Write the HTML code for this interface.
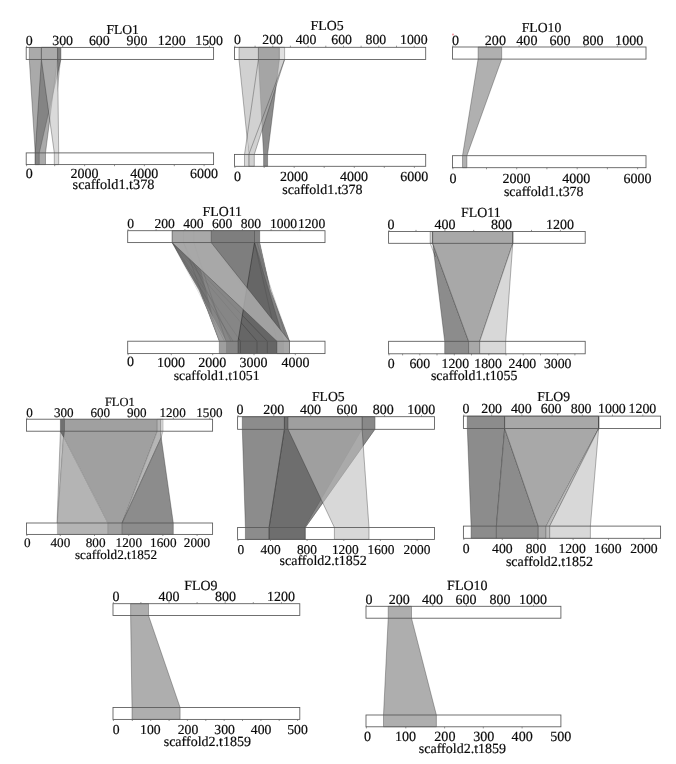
<!DOCTYPE html>
<html><head><meta charset="utf-8"><title>Synteny</title>
<style>
html,body{margin:0;padding:0;background:#fff;}
body{width:676px;height:764px;overflow:hidden;}
svg{display:block;}
svg text{font-family:"Liberation Serif",serif;fill:#0a0a0a;text-rendering:geometricPrecision;}
</style></head><body>
<svg width="676" height="764" viewBox="0 0 676 764">
<rect x="0" y="0" width="676" height="764" fill="#ffffff"/>
<polygon points="29.3,47.4 60.9,47.4 60.9,59.4 39.3,152.9 39.3,164.6 35.2,164.6 35.2,152.9 29.3,59.4" fill="rgba(100,100,100,0.550)" stroke="rgba(35,35,35,0.62)" stroke-width="0.55" stroke-linejoin="round"/>
<polygon points="41.4,47.4 57.4,47.4 57.4,59.4 45.5,152.9 45.5,164.6 35.2,164.6 35.2,152.9 41.4,59.4" fill="rgba(100,100,100,0.550)" stroke="rgba(35,35,35,0.62)" stroke-width="0.55" stroke-linejoin="round"/>
<polygon points="41.4,47.4 57.6,47.4 57.6,59.4 58.7,152.9 58.7,164.6 54.3,164.6 54.3,152.9 41.4,59.4" fill="rgba(195,195,195,0.620)" stroke="rgba(35,35,35,0.62)" stroke-width="0.55" stroke-linejoin="round"/>
<polygon points="57.6,47.4 60.9,47.4 60.9,59.4 57.7,92.0 57.6,59.4" fill="rgba(40,40,40,0.320)" stroke="none" stroke-width="0.55" stroke-linejoin="round"/>
<rect x="26.2" y="47.4" width="187.4" height="12.0" fill="none" stroke="#585858" stroke-width="0.85"/>
<rect x="26.2" y="152.9" width="187.4" height="11.7" fill="none" stroke="#585858" stroke-width="0.85"/>
<line x1="26.6" y1="45.8" x2="26.6" y2="47.4" stroke="#666" stroke-width="0.70"/>
<line x1="62.7" y1="45.8" x2="62.7" y2="47.4" stroke="#666" stroke-width="0.70"/>
<line x1="99.4" y1="45.8" x2="99.4" y2="47.4" stroke="#666" stroke-width="0.70"/>
<line x1="136.1" y1="45.8" x2="136.1" y2="47.4" stroke="#666" stroke-width="0.70"/>
<line x1="172.8" y1="45.8" x2="172.8" y2="47.4" stroke="#666" stroke-width="0.70"/>
<line x1="209.5" y1="45.8" x2="209.5" y2="47.4" stroke="#666" stroke-width="0.70"/>
<line x1="26.6" y1="164.6" x2="26.6" y2="166.2" stroke="#666" stroke-width="0.70"/>
<line x1="54.7" y1="164.6" x2="54.7" y2="166.2" stroke="#666" stroke-width="0.70"/>
<line x1="84.6" y1="164.6" x2="84.6" y2="166.2" stroke="#666" stroke-width="0.70"/>
<line x1="114.5" y1="164.6" x2="114.5" y2="166.2" stroke="#666" stroke-width="0.70"/>
<line x1="144.4" y1="164.6" x2="144.4" y2="166.2" stroke="#666" stroke-width="0.70"/>
<line x1="174.3" y1="164.6" x2="174.3" y2="166.2" stroke="#666" stroke-width="0.70"/>
<line x1="204.1" y1="164.6" x2="204.1" y2="166.2" stroke="#666" stroke-width="0.70"/>
<polygon points="258.4,47.3 279.4,47.3 279.4,59.5 267.6,154.4 267.6,166.3 263.6,166.3 263.6,154.4 258.4,59.5" fill="rgba(55,55,55,0.580)" stroke="rgba(35,35,35,0.62)" stroke-width="0.55" stroke-linejoin="round"/>
<polygon points="239.0,47.3 284.6,47.3 284.6,59.5 254.3,154.4 254.3,166.3 248.8,166.3 248.8,154.4 239.0,59.5" fill="rgba(180,180,180,0.620)" stroke="rgba(35,35,35,0.62)" stroke-width="0.55" stroke-linejoin="round"/>
<polygon points="279.6,47.7 284.4,47.7 284.4,59.1 279.6,59.1" fill="rgba(255,255,255,0.35)" stroke="none" stroke-width="0.55" stroke-linejoin="round"/>
<polygon points="247.0,137.2 248.8,154.4 248.8,166.3 244.5,166.3 244.5,154.4" fill="rgb(216,216,216)" stroke="none" stroke-width="0.55" stroke-linejoin="round"/>
<line x1="258.4" y1="59.5" x2="244.5" y2="154.4" stroke="rgba(35,35,35,0.62)" stroke-width="0.55"/>
<line x1="244.5" y1="154.4" x2="244.5" y2="166.3" stroke="rgba(35,35,35,0.62)" stroke-width="0.55"/>
<line x1="284.6" y1="59.5" x2="248.8" y2="154.4" stroke="rgba(35,35,35,0.62)" stroke-width="0.55"/>
<line x1="248.8" y1="154.4" x2="248.8" y2="166.3" stroke="rgba(35,35,35,0.62)" stroke-width="0.55"/>
<line x1="258.4" y1="47.3" x2="258.4" y2="59.5" stroke="rgba(35,35,35,0.62)" stroke-width="0.55"/>
<line x1="279.4" y1="47.3" x2="279.4" y2="59.5" stroke="rgba(40,40,40,0.3)" stroke-width="0.55"/>
<rect x="234.5" y="47.3" width="191.2" height="12.2" fill="none" stroke="#585858" stroke-width="0.85"/>
<rect x="234.5" y="154.4" width="191.2" height="11.9" fill="none" stroke="#585858" stroke-width="0.85"/>
<line x1="234.9" y1="45.7" x2="234.9" y2="47.3" stroke="#666" stroke-width="0.70"/>
<line x1="255.1" y1="45.7" x2="255.1" y2="47.3" stroke="#666" stroke-width="0.70"/>
<line x1="272.8" y1="45.7" x2="272.8" y2="47.3" stroke="#666" stroke-width="0.70"/>
<line x1="290.4" y1="45.7" x2="290.4" y2="47.3" stroke="#666" stroke-width="0.70"/>
<line x1="308.1" y1="45.7" x2="308.1" y2="47.3" stroke="#666" stroke-width="0.70"/>
<line x1="325.8" y1="45.7" x2="325.8" y2="47.3" stroke="#666" stroke-width="0.70"/>
<line x1="343.5" y1="45.7" x2="343.5" y2="47.3" stroke="#666" stroke-width="0.70"/>
<line x1="361.1" y1="45.7" x2="361.1" y2="47.3" stroke="#666" stroke-width="0.70"/>
<line x1="378.8" y1="45.7" x2="378.8" y2="47.3" stroke="#666" stroke-width="0.70"/>
<line x1="396.5" y1="45.7" x2="396.5" y2="47.3" stroke="#666" stroke-width="0.70"/>
<line x1="414.2" y1="45.7" x2="414.2" y2="47.3" stroke="#666" stroke-width="0.70"/>
<line x1="234.9" y1="166.3" x2="234.9" y2="167.9" stroke="#666" stroke-width="0.70"/>
<line x1="264.2" y1="166.3" x2="264.2" y2="167.9" stroke="#666" stroke-width="0.70"/>
<line x1="294.2" y1="166.3" x2="294.2" y2="167.9" stroke="#666" stroke-width="0.70"/>
<line x1="324.2" y1="166.3" x2="324.2" y2="167.9" stroke="#666" stroke-width="0.70"/>
<line x1="354.3" y1="166.3" x2="354.3" y2="167.9" stroke="#666" stroke-width="0.70"/>
<line x1="384.3" y1="166.3" x2="384.3" y2="167.9" stroke="#666" stroke-width="0.70"/>
<line x1="414.4" y1="166.3" x2="414.4" y2="167.9" stroke="#666" stroke-width="0.70"/>
<polygon points="478.1,47.0 501.7,47.0 501.7,59.1 466.9,155.7 466.9,167.7 462.5,167.7 462.5,155.7 478.1,59.1" fill="rgb(176,176,176)" stroke="rgba(35,35,35,0.62)" stroke-width="0.55" stroke-linejoin="round"/>
<rect x="452.5" y="47.0" width="193.5" height="12.1" fill="none" stroke="#585858" stroke-width="0.85"/>
<rect x="452.5" y="155.7" width="193.5" height="12.0" fill="none" stroke="#585858" stroke-width="0.85"/>
<line x1="452.9" y1="45.4" x2="452.9" y2="47.0" stroke="#666" stroke-width="0.70"/>
<line x1="486.3" y1="45.4" x2="486.3" y2="47.0" stroke="#666" stroke-width="0.70"/>
<line x1="519.1" y1="45.4" x2="519.1" y2="47.0" stroke="#666" stroke-width="0.70"/>
<line x1="551.9" y1="45.4" x2="551.9" y2="47.0" stroke="#666" stroke-width="0.70"/>
<line x1="584.6" y1="45.4" x2="584.6" y2="47.0" stroke="#666" stroke-width="0.70"/>
<line x1="617.4" y1="45.4" x2="617.4" y2="47.0" stroke="#666" stroke-width="0.70"/>
<line x1="452.9" y1="167.7" x2="452.9" y2="169.3" stroke="#666" stroke-width="0.70"/>
<line x1="486.5" y1="167.7" x2="486.5" y2="169.3" stroke="#666" stroke-width="0.70"/>
<line x1="516.7" y1="167.7" x2="516.7" y2="169.3" stroke="#666" stroke-width="0.70"/>
<line x1="546.9" y1="167.7" x2="546.9" y2="169.3" stroke="#666" stroke-width="0.70"/>
<line x1="577.2" y1="167.7" x2="577.2" y2="169.3" stroke="#666" stroke-width="0.70"/>
<line x1="607.4" y1="167.7" x2="607.4" y2="169.3" stroke="#666" stroke-width="0.70"/>
<line x1="637.6" y1="167.7" x2="637.6" y2="169.3" stroke="#666" stroke-width="0.70"/>
<circle cx="453" cy="34.5" r="1.1" fill="#f4a0a8"/>
<polygon points="172.2,230.7 259.7,230.7 259.7,242.6 270.3,290.0 289.5,341.2 289.5,353.6 219.3,353.6 219.3,341.2 207.4,310.0 199.1,290.0 185.7,266.9 172.2,242.6" fill="rgb(134,134,134)" stroke="rgba(40,40,40,0.6)" stroke-width="0.55" stroke-linejoin="round"/>
<polygon points="172.2,242.6 200.8,269.5 213.5,319.0 219.3,341.2 207.4,310.0 199.1,290.0 185.7,266.9" fill="rgb(116,116,116)" stroke="none" stroke-width="0.55" stroke-linejoin="round"/>
<polygon points="190.0,274.5 226.0,341.2 226.0,353.6 219.3,353.6 219.3,341.2 207.4,310.0 199.1,290.0" fill="rgba(168,168,168,0.700)" stroke="none" stroke-width="0.55" stroke-linejoin="round"/>
<polygon points="211.2,230.7 254.5,230.7 254.5,242.6 246.3,291.5 211.2,242.6" fill="rgb(126,126,126)" stroke="none" stroke-width="0.55" stroke-linejoin="round"/>
<polygon points="254.5,230.7 259.7,230.7 259.7,242.6 270.3,290.0 289.5,341.2 289.5,353.6 284.0,353.6 284.0,341.2 254.5,242.6" fill="rgb(130,130,130)" stroke="none" stroke-width="0.55" stroke-linejoin="round"/>
<polygon points="254.5,242.6 284.0,341.2 284.0,353.6 238.0,353.6 238.0,341.2" fill="rgb(102,102,102)" stroke="none" stroke-width="0.55" stroke-linejoin="round"/>
<polygon points="172.2,242.6 257.0,341.2 257.0,353.6 240.5,353.6 240.5,341.2" fill="rgba(255,255,255,0.000)" stroke="none" stroke-width="0.55" stroke-linejoin="round"/>
<line x1="172.2" y1="242.6" x2="238.5" y2="338.3" stroke="rgba(30,30,30,0.13)" stroke-width="0.55"/>
<line x1="238.5" y1="338.3" x2="240.5" y2="341.2" stroke="rgba(30,30,30,0.5)" stroke-width="0.55"/>
<line x1="240.5" y1="341.2" x2="240.5" y2="353.6" stroke="rgba(30,30,30,0.45)" stroke-width="0.55"/>
<line x1="172.2" y1="242.6" x2="241.1" y2="322.7" stroke="rgba(30,30,30,0.13)" stroke-width="0.55"/>
<line x1="241.1" y1="322.7" x2="257.0" y2="341.2" stroke="rgba(30,30,30,0.5)" stroke-width="0.55"/>
<line x1="257.0" y1="341.2" x2="257.0" y2="353.6" stroke="rgba(30,30,30,0.45)" stroke-width="0.55"/>
<line x1="172.2" y1="242.6" x2="242.3" y2="315.3" stroke="rgba(30,30,30,0.13)" stroke-width="0.55"/>
<line x1="242.3" y1="315.3" x2="267.3" y2="341.2" stroke="rgba(30,30,30,0.5)" stroke-width="0.55"/>
<line x1="267.3" y1="341.2" x2="267.3" y2="353.6" stroke="rgba(30,30,30,0.45)" stroke-width="0.55"/>
<line x1="183.5" y1="242.6" x2="219.3" y2="341.2" stroke="rgba(30,30,30,0.22)" stroke-width="0.55"/>
<line x1="193.8" y1="242.6" x2="226.0" y2="341.2" stroke="rgba(30,30,30,0.22)" stroke-width="0.55"/>
<line x1="172.2" y1="242.6" x2="224.5" y2="341.2" stroke="rgba(30,30,30,0.22)" stroke-width="0.55"/>
<line x1="183.5" y1="242.6" x2="231.0" y2="341.2" stroke="rgba(30,30,30,0.22)" stroke-width="0.55"/>
<line x1="172.2" y1="242.6" x2="233.0" y2="341.2" stroke="rgba(30,30,30,0.22)" stroke-width="0.55"/>
<line x1="183.5" y1="230.7" x2="183.5" y2="242.6" stroke="rgba(30,30,30,0.2)" stroke-width="0.55"/>
<line x1="193.8" y1="230.7" x2="193.8" y2="242.6" stroke="rgba(30,30,30,0.2)" stroke-width="0.55"/>
<line x1="254.5" y1="230.7" x2="254.5" y2="242.6" stroke="rgba(30,30,30,0.6)" stroke-width="0.55"/>
<line x1="254.5" y1="242.6" x2="238.0" y2="341.2" stroke="rgba(30,30,30,0.6)" stroke-width="0.80"/>
<line x1="238.0" y1="341.2" x2="238.0" y2="353.6" stroke="rgba(30,30,30,0.6)" stroke-width="0.55"/>
<line x1="254.5" y1="242.6" x2="284.0" y2="341.2" stroke="rgba(30,30,30,0.35)" stroke-width="0.55"/>
<line x1="254.5" y1="242.6" x2="277.0" y2="341.2" stroke="rgba(30,30,30,0.25)" stroke-width="0.55"/>
<line x1="257.0" y1="242.6" x2="287.0" y2="341.2" stroke="rgba(30,30,30,0.25)" stroke-width="0.55"/>
<line x1="254.5" y1="242.6" x2="289.5" y2="341.2" stroke="rgba(30,30,30,0.25)" stroke-width="0.55"/>
<polygon points="172.2,230.7 211.2,230.7 211.2,242.6 289.5,341.2 289.5,353.6 276.9,353.6 276.9,341.2 172.2,242.6" fill="rgba(176,176,176,0.800)" stroke="rgba(40,40,40,0.6)" stroke-width="0.55" stroke-linejoin="round"/>
<rect x="127.7" y="230.7" width="197.3" height="11.9" fill="none" stroke="#585858" stroke-width="0.85"/>
<rect x="127.7" y="341.2" width="197.3" height="12.4" fill="none" stroke="#585858" stroke-width="0.85"/>
<line x1="128.1" y1="229.1" x2="128.1" y2="230.7" stroke="#666" stroke-width="0.70"/>
<line x1="156.1" y1="229.1" x2="156.1" y2="230.7" stroke="#666" stroke-width="0.70"/>
<line x1="184.9" y1="229.1" x2="184.9" y2="230.7" stroke="#666" stroke-width="0.70"/>
<line x1="213.6" y1="229.1" x2="213.6" y2="230.7" stroke="#666" stroke-width="0.70"/>
<line x1="242.4" y1="229.1" x2="242.4" y2="230.7" stroke="#666" stroke-width="0.70"/>
<line x1="271.1" y1="229.1" x2="271.1" y2="230.7" stroke="#666" stroke-width="0.70"/>
<line x1="299.9" y1="229.1" x2="299.9" y2="230.7" stroke="#666" stroke-width="0.70"/>
<line x1="128.1" y1="353.6" x2="128.1" y2="355.2" stroke="#666" stroke-width="0.70"/>
<line x1="171.3" y1="353.6" x2="171.3" y2="355.2" stroke="#666" stroke-width="0.70"/>
<line x1="212.7" y1="353.6" x2="212.7" y2="355.2" stroke="#666" stroke-width="0.70"/>
<line x1="254.0" y1="353.6" x2="254.0" y2="355.2" stroke="#666" stroke-width="0.70"/>
<line x1="295.3" y1="353.6" x2="295.3" y2="355.2" stroke="#666" stroke-width="0.70"/>
<polygon points="430.2,231.5 432.7,231.5 432.7,243.3 430.2,243.3" fill="rgb(214,214,214)" stroke="rgba(35,35,35,0.62)" stroke-width="0.55" stroke-linejoin="round"/>
<polygon points="432.7,231.5 432.7,231.5 432.7,243.3 468.6,341.3 468.6,353.8 444.7,353.8 444.7,341.3 432.7,243.3" fill="rgb(140,140,140)" stroke="rgba(35,35,35,0.62)" stroke-width="0.55" stroke-linejoin="round"/>
<line x1="430.2" y1="243.3" x2="435.5" y2="257.0" stroke="rgba(35,35,35,0.62)" stroke-width="0.55"/>
<polygon points="432.7,231.5 512.8,231.5 512.8,243.3 479.7,341.3 479.7,353.8 468.6,353.8 468.6,341.3 432.7,243.3" fill="rgb(168,168,168)" stroke="rgba(35,35,35,0.62)" stroke-width="0.55" stroke-linejoin="round"/>
<polygon points="512.8,231.5 512.8,231.5 512.8,243.3 505.7,341.3 505.7,353.8 479.7,353.8 479.7,341.3 512.8,243.3" fill="rgb(216,216,216)" stroke="rgba(35,35,35,0.62)" stroke-width="0.55" stroke-linejoin="round"/>
<rect x="388.6" y="231.5" width="196.6" height="11.8" fill="none" stroke="#585858" stroke-width="0.85"/>
<rect x="388.6" y="341.3" width="196.6" height="12.5" fill="none" stroke="#585858" stroke-width="0.85"/>
<line x1="389.0" y1="229.9" x2="389.0" y2="231.5" stroke="#666" stroke-width="0.70"/>
<line x1="416.0" y1="229.9" x2="416.0" y2="231.5" stroke="#666" stroke-width="0.70"/>
<line x1="444.9" y1="229.9" x2="444.9" y2="231.5" stroke="#666" stroke-width="0.70"/>
<line x1="473.7" y1="229.9" x2="473.7" y2="231.5" stroke="#666" stroke-width="0.70"/>
<line x1="502.6" y1="229.9" x2="502.6" y2="231.5" stroke="#666" stroke-width="0.70"/>
<line x1="531.5" y1="229.9" x2="531.5" y2="231.5" stroke="#666" stroke-width="0.70"/>
<line x1="560.4" y1="229.9" x2="560.4" y2="231.5" stroke="#666" stroke-width="0.70"/>
<line x1="389.0" y1="353.8" x2="389.0" y2="355.4" stroke="#666" stroke-width="0.70"/>
<line x1="402.6" y1="353.8" x2="402.6" y2="355.4" stroke="#666" stroke-width="0.70"/>
<line x1="419.8" y1="353.8" x2="419.8" y2="355.4" stroke="#666" stroke-width="0.70"/>
<line x1="437.0" y1="353.8" x2="437.0" y2="355.4" stroke="#666" stroke-width="0.70"/>
<line x1="454.3" y1="353.8" x2="454.3" y2="355.4" stroke="#666" stroke-width="0.70"/>
<line x1="471.5" y1="353.8" x2="471.5" y2="355.4" stroke="#666" stroke-width="0.70"/>
<line x1="488.8" y1="353.8" x2="488.8" y2="355.4" stroke="#666" stroke-width="0.70"/>
<line x1="506.0" y1="353.8" x2="506.0" y2="355.4" stroke="#666" stroke-width="0.70"/>
<line x1="523.2" y1="353.8" x2="523.2" y2="355.4" stroke="#666" stroke-width="0.70"/>
<line x1="540.5" y1="353.8" x2="540.5" y2="355.4" stroke="#666" stroke-width="0.70"/>
<line x1="557.7" y1="353.8" x2="557.7" y2="355.4" stroke="#666" stroke-width="0.70"/>
<line x1="574.9" y1="353.8" x2="574.9" y2="355.4" stroke="#666" stroke-width="0.70"/>
<polygon points="60.4,431.2 63.6,436.9 57.6,523.0 57.0,523.0" fill="rgb(196,196,196)" stroke="rgba(35,35,35,0.62)" stroke-width="0.50" stroke-linejoin="round"/>
<polygon points="63.6,436.9 107.9,523.0 107.9,534.4 57.3,534.4 57.3,523.0" fill="rgb(180,180,180)" stroke="rgba(35,35,35,0.35)" stroke-width="0.40" stroke-linejoin="round"/>
<polygon points="64.5,419.2 157.3,419.2 157.3,431.2 122.2,523.0 122.2,534.4 107.9,534.4 107.9,523.0 63.6,436.9 64.5,431.2" fill="rgb(160,160,160)" stroke="rgba(35,35,35,0.3)" stroke-width="0.40" stroke-linejoin="round"/>
<polygon points="60.4,419.2 64.5,419.2 64.5,431.2 63.6,436.9 60.4,431.2" fill="rgb(112,112,112)" stroke="rgba(35,35,35,0.62)" stroke-width="0.55" stroke-linejoin="round"/>
<polygon points="157.3,419.2 160.8,419.2 160.8,431.2 161.2,437.5 122.2,523.0 157.3,431.2" fill="rgb(182,182,182)" stroke="rgba(35,35,35,0.62)" stroke-width="0.40" stroke-linejoin="round"/>
<polygon points="160.8,419.2 163.0,419.2 163.0,431.2 161.2,437.5 160.8,431.2" fill="rgb(224,224,224)" stroke="rgba(35,35,35,0.62)" stroke-width="0.40" stroke-linejoin="round"/>
<polygon points="161.2,437.5 173.3,523.0 173.3,534.4 122.2,534.4 122.2,523.0" fill="rgb(140,140,140)" stroke="rgba(35,35,35,0.62)" stroke-width="0.55" stroke-linejoin="round"/>
<rect x="26.5" y="419.2" width="186.1" height="12.0" fill="none" stroke="#585858" stroke-width="0.85"/>
<rect x="26.5" y="523.0" width="186.1" height="11.4" fill="none" stroke="#585858" stroke-width="0.85"/>
<line x1="26.9" y1="417.6" x2="26.9" y2="419.2" stroke="#666" stroke-width="0.70"/>
<line x1="64.0" y1="417.6" x2="64.0" y2="419.2" stroke="#666" stroke-width="0.70"/>
<line x1="100.4" y1="417.6" x2="100.4" y2="419.2" stroke="#666" stroke-width="0.70"/>
<line x1="136.9" y1="417.6" x2="136.9" y2="419.2" stroke="#666" stroke-width="0.70"/>
<line x1="173.3" y1="417.6" x2="173.3" y2="419.2" stroke="#666" stroke-width="0.70"/>
<line x1="209.8" y1="417.6" x2="209.8" y2="419.2" stroke="#666" stroke-width="0.70"/>
<line x1="26.9" y1="534.4" x2="26.9" y2="536.0" stroke="#666" stroke-width="0.70"/>
<line x1="60.3" y1="534.4" x2="60.3" y2="536.0" stroke="#666" stroke-width="0.70"/>
<line x1="94.5" y1="534.4" x2="94.5" y2="536.0" stroke="#666" stroke-width="0.70"/>
<line x1="128.7" y1="534.4" x2="128.7" y2="536.0" stroke="#666" stroke-width="0.70"/>
<line x1="162.9" y1="534.4" x2="162.9" y2="536.0" stroke="#666" stroke-width="0.70"/>
<line x1="197.1" y1="534.4" x2="197.1" y2="536.0" stroke="#666" stroke-width="0.70"/>
<polygon points="242.3,416.7 284.4,416.7 284.4,429.3 269.1,527.5 269.1,539.4 245.4,539.4 245.4,527.5 242.3,429.3" fill="rgba(63,63,63,0.600)" stroke="rgba(35,35,35,0.62)" stroke-width="0.55" stroke-linejoin="round"/>
<polygon points="284.4,416.7 374.9,416.7 374.9,429.3 305.3,527.5 305.3,539.4 269.1,539.4 269.1,527.5 284.4,429.3" fill="rgba(13,13,13,0.600)" stroke="rgba(35,35,35,0.62)" stroke-width="0.55" stroke-linejoin="round"/>
<polygon points="362.1,416.7 374.9,416.7 374.9,429.3 305.3,527.5 305.3,539.4 304.6,539.4 304.6,527.5 362.1,429.3" fill="rgba(170,170,170,0.450)" stroke="rgba(40,40,40,0.3)" stroke-width="0.55" stroke-linejoin="round"/>
<polygon points="288.0,416.7 362.1,416.7 362.1,429.3 369.0,527.5 369.0,539.4 334.4,539.4 334.4,527.5 288.0,429.3" fill="rgba(191,191,191,0.610)" stroke="rgba(35,35,35,0.62)" stroke-width="0.55" stroke-linejoin="round"/>
<rect x="237.6" y="416.7" width="196.9" height="12.6" fill="none" stroke="#585858" stroke-width="0.85"/>
<rect x="237.6" y="527.5" width="196.9" height="11.9" fill="none" stroke="#585858" stroke-width="0.85"/>
<line x1="238.0" y1="415.1" x2="238.0" y2="416.7" stroke="#666" stroke-width="0.70"/>
<line x1="273.8" y1="415.1" x2="273.8" y2="416.7" stroke="#666" stroke-width="0.70"/>
<line x1="310.7" y1="415.1" x2="310.7" y2="416.7" stroke="#666" stroke-width="0.70"/>
<line x1="347.6" y1="415.1" x2="347.6" y2="416.7" stroke="#666" stroke-width="0.70"/>
<line x1="384.6" y1="415.1" x2="384.6" y2="416.7" stroke="#666" stroke-width="0.70"/>
<line x1="421.5" y1="415.1" x2="421.5" y2="416.7" stroke="#666" stroke-width="0.70"/>
<line x1="238.0" y1="539.4" x2="238.0" y2="541.0" stroke="#666" stroke-width="0.70"/>
<line x1="270.5" y1="539.4" x2="270.5" y2="541.0" stroke="#666" stroke-width="0.70"/>
<line x1="307.1" y1="539.4" x2="307.1" y2="541.0" stroke="#666" stroke-width="0.70"/>
<line x1="343.8" y1="539.4" x2="343.8" y2="541.0" stroke="#666" stroke-width="0.70"/>
<line x1="380.4" y1="539.4" x2="380.4" y2="541.0" stroke="#666" stroke-width="0.70"/>
<line x1="417.1" y1="539.4" x2="417.1" y2="541.0" stroke="#666" stroke-width="0.70"/>
<polygon points="467.3,416.1 504.7,416.1 504.7,428.5 496.4,526.1 496.4,538.3 471.1,538.3 471.1,526.1 467.3,428.5" fill="rgb(140,140,140)" stroke="rgba(35,35,35,0.62)" stroke-width="0.55" stroke-linejoin="round"/>
<polygon points="504.7,416.1 504.7,416.1 504.7,428.5 538.3,526.1 538.3,538.3 496.4,538.3 496.4,526.1 504.7,428.5" fill="rgb(140,140,140)" stroke="rgba(35,35,35,0.62)" stroke-width="0.55" stroke-linejoin="round"/>
<polygon points="504.7,416.1 598.7,416.1 598.7,428.5 546.1,526.1 546.1,538.3 538.3,538.3 538.3,526.1 504.7,428.5" fill="rgb(168,168,168)" stroke="rgba(35,35,35,0.62)" stroke-width="0.55" stroke-linejoin="round"/>
<polygon points="598.7,416.1 598.7,416.1 598.7,428.5 549.7,526.1 549.7,538.3 546.1,538.3 546.1,526.1 598.7,428.5" fill="rgb(186,186,186)" stroke="rgba(35,35,35,0.62)" stroke-width="0.30" stroke-linejoin="round"/>
<polygon points="598.7,416.1 598.7,416.1 598.7,428.5 590.4,526.1 590.4,538.3 549.7,538.3 549.7,526.1 598.7,428.5" fill="rgb(216,216,216)" stroke="rgba(35,35,35,0.62)" stroke-width="0.55" stroke-linejoin="round"/>
<rect x="463.4" y="416.1" width="197.2" height="12.4" fill="none" stroke="#585858" stroke-width="0.85"/>
<rect x="463.4" y="526.1" width="197.2" height="12.2" fill="none" stroke="#585858" stroke-width="0.85"/>
<line x1="463.8" y1="414.5" x2="463.8" y2="416.1" stroke="#666" stroke-width="0.70"/>
<line x1="491.7" y1="414.5" x2="491.7" y2="416.1" stroke="#666" stroke-width="0.70"/>
<line x1="521.9" y1="414.5" x2="521.9" y2="416.1" stroke="#666" stroke-width="0.70"/>
<line x1="552.1" y1="414.5" x2="552.1" y2="416.1" stroke="#666" stroke-width="0.70"/>
<line x1="582.3" y1="414.5" x2="582.3" y2="416.1" stroke="#666" stroke-width="0.70"/>
<line x1="612.5" y1="414.5" x2="612.5" y2="416.1" stroke="#666" stroke-width="0.70"/>
<line x1="642.8" y1="414.5" x2="642.8" y2="416.1" stroke="#666" stroke-width="0.70"/>
<line x1="463.8" y1="538.3" x2="463.8" y2="539.9" stroke="#666" stroke-width="0.70"/>
<line x1="502.3" y1="538.3" x2="502.3" y2="539.9" stroke="#666" stroke-width="0.70"/>
<line x1="537.7" y1="538.3" x2="537.7" y2="539.9" stroke="#666" stroke-width="0.70"/>
<line x1="573.1" y1="538.3" x2="573.1" y2="539.9" stroke="#666" stroke-width="0.70"/>
<line x1="608.5" y1="538.3" x2="608.5" y2="539.9" stroke="#666" stroke-width="0.70"/>
<line x1="643.9" y1="538.3" x2="643.9" y2="539.9" stroke="#666" stroke-width="0.70"/>
<polygon points="130.6,603.7 148.5,603.7 148.5,615.5 180.1,707.5 180.1,719.4 132.0,719.4 132.0,707.5 130.6,615.5" fill="rgb(174,174,174)" stroke="rgba(35,35,35,0.62)" stroke-width="0.55" stroke-linejoin="round"/>
<rect x="113.0" y="603.7" width="186.8" height="11.8" fill="none" stroke="#585858" stroke-width="0.85"/>
<rect x="113.0" y="707.5" width="186.8" height="11.9" fill="none" stroke="#585858" stroke-width="0.85"/>
<line x1="113.4" y1="602.1" x2="113.4" y2="603.7" stroke="#666" stroke-width="0.70"/>
<line x1="140.9" y1="602.1" x2="140.9" y2="603.7" stroke="#666" stroke-width="0.70"/>
<line x1="169.0" y1="602.1" x2="169.0" y2="603.7" stroke="#666" stroke-width="0.70"/>
<line x1="197.1" y1="602.1" x2="197.1" y2="603.7" stroke="#666" stroke-width="0.70"/>
<line x1="225.2" y1="602.1" x2="225.2" y2="603.7" stroke="#666" stroke-width="0.70"/>
<line x1="253.3" y1="602.1" x2="253.3" y2="603.7" stroke="#666" stroke-width="0.70"/>
<line x1="281.5" y1="602.1" x2="281.5" y2="603.7" stroke="#666" stroke-width="0.70"/>
<line x1="113.4" y1="719.4" x2="113.4" y2="721.0" stroke="#666" stroke-width="0.70"/>
<line x1="132.3" y1="719.4" x2="132.3" y2="721.0" stroke="#666" stroke-width="0.70"/>
<line x1="150.7" y1="719.4" x2="150.7" y2="721.0" stroke="#666" stroke-width="0.70"/>
<line x1="169.1" y1="719.4" x2="169.1" y2="721.0" stroke="#666" stroke-width="0.70"/>
<line x1="187.4" y1="719.4" x2="187.4" y2="721.0" stroke="#666" stroke-width="0.70"/>
<line x1="205.8" y1="719.4" x2="205.8" y2="721.0" stroke="#666" stroke-width="0.70"/>
<line x1="224.2" y1="719.4" x2="224.2" y2="721.0" stroke="#666" stroke-width="0.70"/>
<line x1="242.5" y1="719.4" x2="242.5" y2="721.0" stroke="#666" stroke-width="0.70"/>
<line x1="260.9" y1="719.4" x2="260.9" y2="721.0" stroke="#666" stroke-width="0.70"/>
<line x1="279.2" y1="719.4" x2="279.2" y2="721.0" stroke="#666" stroke-width="0.70"/>
<line x1="297.6" y1="719.4" x2="297.6" y2="721.0" stroke="#666" stroke-width="0.70"/>
<polygon points="388.2,606.3 411.5,606.3 411.5,618.2 436.4,715.0 436.4,726.8 383.5,726.8 383.5,715.0 388.2,618.2" fill="rgb(174,174,174)" stroke="rgba(35,35,35,0.62)" stroke-width="0.55" stroke-linejoin="round"/>
<rect x="366.0" y="606.3" width="194.9" height="11.9" fill="none" stroke="#585858" stroke-width="0.85"/>
<rect x="366.0" y="715.0" width="194.9" height="11.8" fill="none" stroke="#585858" stroke-width="0.85"/>
<line x1="366.4" y1="604.7" x2="366.4" y2="606.3" stroke="#666" stroke-width="0.70"/>
<line x1="399.3" y1="604.7" x2="399.3" y2="606.3" stroke="#666" stroke-width="0.70"/>
<line x1="432.8" y1="604.7" x2="432.8" y2="606.3" stroke="#666" stroke-width="0.70"/>
<line x1="466.4" y1="604.7" x2="466.4" y2="606.3" stroke="#666" stroke-width="0.70"/>
<line x1="499.9" y1="604.7" x2="499.9" y2="606.3" stroke="#666" stroke-width="0.70"/>
<line x1="533.5" y1="604.7" x2="533.5" y2="606.3" stroke="#666" stroke-width="0.70"/>
<line x1="366.4" y1="726.8" x2="366.4" y2="728.4" stroke="#666" stroke-width="0.70"/>
<line x1="405.8" y1="726.8" x2="405.8" y2="728.4" stroke="#666" stroke-width="0.70"/>
<line x1="444.6" y1="726.8" x2="444.6" y2="728.4" stroke="#666" stroke-width="0.70"/>
<line x1="483.3" y1="726.8" x2="483.3" y2="728.4" stroke="#666" stroke-width="0.70"/>
<line x1="522.1" y1="726.8" x2="522.1" y2="728.4" stroke="#666" stroke-width="0.70"/>
<g style="filter:grayscale(1)" stroke="#0a0a0a" stroke-width="0.18">
<text x="106.4" y="34.0" text-anchor="start" font-size="13.6">FLO1</text>
<text x="25.8" y="45.0" text-anchor="start" font-size="13.9">0</text>
<text x="52.2" y="45.0" text-anchor="start" font-size="13.9">300</text>
<text x="88.9" y="45.0" text-anchor="start" font-size="13.9">600</text>
<text x="126.6" y="45.0" text-anchor="start" font-size="13.9">900</text>
<text x="157.8" y="45.0" text-anchor="start" font-size="13.9">1200</text>
<text x="195.2" y="45.0" text-anchor="start" font-size="13.9">1500</text>
<text x="25.8" y="178.0" text-anchor="start" font-size="14.0">0</text>
<text x="70.6" y="178.0" text-anchor="start" font-size="14.0">2000</text>
<text x="130.3" y="178.0" text-anchor="start" font-size="14.0">4000</text>
<text x="190.1" y="178.0" text-anchor="start" font-size="14.0">6000</text>
<text x="72.6" y="189.0" text-anchor="start" font-size="14.3">scaffold1.t378</text>
<text x="310.6" y="30.0" text-anchor="start" font-size="13.8">FLO5</text>
<text x="234.1" y="44.0" text-anchor="start" font-size="13.8">0</text>
<text x="262.3" y="44.0" text-anchor="start" font-size="13.8">200</text>
<text x="295.7" y="44.0" text-anchor="start" font-size="13.8">400</text>
<text x="331.3" y="44.0" text-anchor="start" font-size="13.8">600</text>
<text x="365.5" y="44.0" text-anchor="start" font-size="13.8">800</text>
<text x="400.0" y="44.0" text-anchor="start" font-size="13.8">1000</text>
<text x="234.1" y="181.0" text-anchor="start" font-size="14.0">0</text>
<text x="280.1" y="181.0" text-anchor="start" font-size="14.0">2000</text>
<text x="339.9" y="181.0" text-anchor="start" font-size="14.0">4000</text>
<text x="400.3" y="181.0" text-anchor="start" font-size="14.0">6000</text>
<text x="282.3" y="194.0" text-anchor="start" font-size="14.0">scaffold1.t378</text>
<text x="521.7" y="32.0" text-anchor="start" font-size="13.7">FLO10</text>
<text x="452.1" y="45.0" text-anchor="start" font-size="14.1">0</text>
<text x="484.8" y="45.0" text-anchor="start" font-size="14.1">200</text>
<text x="516.3" y="45.0" text-anchor="start" font-size="14.1">400</text>
<text x="549.5" y="45.0" text-anchor="start" font-size="14.1">600</text>
<text x="582.5" y="45.0" text-anchor="start" font-size="14.1">800</text>
<text x="615.1" y="45.0" text-anchor="start" font-size="14.1">1000</text>
<text x="449.4" y="183.0" text-anchor="start" font-size="14.0">0</text>
<text x="502.6" y="183.0" text-anchor="start" font-size="14.0">2000</text>
<text x="562.2" y="183.0" text-anchor="start" font-size="14.0">4000</text>
<text x="623.5" y="183.0" text-anchor="start" font-size="14.0">6000</text>
<text x="503.9" y="196.0" text-anchor="start" font-size="13.9">scaffold1.t378</text>
<text x="202.6" y="216.0" text-anchor="start" font-size="13.8">FLO11</text>
<text x="127.2" y="228.0" text-anchor="start" font-size="13.6">0</text>
<text x="154.5" y="228.0" text-anchor="start" font-size="13.6">200</text>
<text x="183.2" y="228.0" text-anchor="start" font-size="13.6">400</text>
<text x="212.0" y="228.0" text-anchor="start" font-size="13.6">600</text>
<text x="240.7" y="228.0" text-anchor="start" font-size="13.6">800</text>
<text x="269.9" y="228.0" text-anchor="start" font-size="13.6">1000</text>
<text x="298.0" y="228.0" text-anchor="start" font-size="13.6">1200</text>
<text x="127.1" y="366.0" text-anchor="start" font-size="14.0">0</text>
<text x="157.0" y="367.0" text-anchor="start" font-size="14.0">1000</text>
<text x="198.2" y="367.0" text-anchor="start" font-size="14.0">2000</text>
<text x="239.6" y="367.0" text-anchor="start" font-size="14.0">3000</text>
<text x="281.4" y="367.0" text-anchor="start" font-size="14.0">4000</text>
<text x="173.7" y="380.0" text-anchor="start" font-size="13.8">scaffold1.t1051</text>
<text x="461.0" y="217.0" text-anchor="start" font-size="13.9">FLO11</text>
<text x="387.6" y="229.0" text-anchor="start" font-size="14.0">0</text>
<text x="434.5" y="229.0" text-anchor="start" font-size="14.0">400</text>
<text x="491.0" y="229.0" text-anchor="start" font-size="14.0">800</text>
<text x="546.0" y="229.0" text-anchor="start" font-size="14.0">1200</text>
<text x="387.7" y="368.0" text-anchor="start" font-size="13.8">0</text>
<text x="409.4" y="368.0" text-anchor="start" font-size="13.8">600</text>
<text x="441.5" y="368.0" text-anchor="start" font-size="13.8">1200</text>
<text x="474.3" y="368.0" text-anchor="start" font-size="13.8">1800</text>
<text x="508.6" y="368.0" text-anchor="start" font-size="13.8">2400</text>
<text x="543.9" y="368.0" text-anchor="start" font-size="13.8">3000</text>
<text x="430.9" y="380.0" text-anchor="start" font-size="13.9">scaffold1.t1055</text>
<text x="104.9" y="406.0" text-anchor="start" font-size="12.5">FLO1</text>
<text x="26.3" y="417.0" text-anchor="start" font-size="13.1">0</text>
<text x="54.0" y="417.0" text-anchor="start" font-size="13.1">300</text>
<text x="90.4" y="417.0" text-anchor="start" font-size="13.1">600</text>
<text x="126.9" y="417.0" text-anchor="start" font-size="13.1">900</text>
<text x="159.5" y="417.0" text-anchor="start" font-size="13.1">1200</text>
<text x="196.3" y="417.0" text-anchor="start" font-size="13.1">1500</text>
<text x="24.1" y="547.0" text-anchor="start" font-size="13.2">0</text>
<text x="50.5" y="547.0" text-anchor="start" font-size="13.2">400</text>
<text x="85.7" y="547.0" text-anchor="start" font-size="13.2">800</text>
<text x="115.6" y="547.0" text-anchor="start" font-size="13.2">1200</text>
<text x="150.1" y="547.0" text-anchor="start" font-size="13.2">1600</text>
<text x="183.8" y="547.0" text-anchor="start" font-size="13.2">2000</text>
<text x="74.9" y="559.0" text-anchor="start" font-size="13.2">scaffold2.t1852</text>
<text x="312.0" y="401.0" text-anchor="start" font-size="13.7">FLO5</text>
<text x="236.6" y="414.0" text-anchor="start" font-size="14.0">0</text>
<text x="263.2" y="414.0" text-anchor="start" font-size="14.0">200</text>
<text x="300.0" y="414.0" text-anchor="start" font-size="14.0">400</text>
<text x="336.5" y="414.0" text-anchor="start" font-size="14.0">600</text>
<text x="372.8" y="414.0" text-anchor="start" font-size="14.0">800</text>
<text x="407.2" y="414.0" text-anchor="start" font-size="14.0">1000</text>
<text x="237.5" y="554.0" text-anchor="start" font-size="13.4">0</text>
<text x="260.5" y="554.0" text-anchor="start" font-size="13.4">400</text>
<text x="296.9" y="554.0" text-anchor="start" font-size="13.4">800</text>
<text x="331.9" y="554.0" text-anchor="start" font-size="13.4">1200</text>
<text x="367.6" y="554.0" text-anchor="start" font-size="13.4">1600</text>
<text x="403.6" y="554.0" text-anchor="start" font-size="13.4">2000</text>
<text x="279.5" y="565.0" text-anchor="start" font-size="14.0">scaffold2.t1852</text>
<text x="537.3" y="401.0" text-anchor="start" font-size="13.7">FLO9</text>
<text x="462.6" y="413.0" text-anchor="start" font-size="13.9">0</text>
<text x="481.2" y="413.0" text-anchor="start" font-size="13.9">200</text>
<text x="510.9" y="413.0" text-anchor="start" font-size="13.9">400</text>
<text x="540.7" y="413.0" text-anchor="start" font-size="13.9">600</text>
<text x="570.7" y="413.0" text-anchor="start" font-size="13.9">800</text>
<text x="598.0" y="413.0" text-anchor="start" font-size="13.9">1000</text>
<text x="628.5" y="413.0" text-anchor="start" font-size="13.9">1200</text>
<text x="462.7" y="553.0" text-anchor="start" font-size="13.7">0</text>
<text x="492.1" y="553.0" text-anchor="start" font-size="13.7">400</text>
<text x="525.7" y="553.0" text-anchor="start" font-size="13.7">800</text>
<text x="558.4" y="553.0" text-anchor="start" font-size="13.7">1200</text>
<text x="594.1" y="553.0" text-anchor="start" font-size="13.7">1600</text>
<text x="630.2" y="553.0" text-anchor="start" font-size="13.7">2000</text>
<text x="505.9" y="566.0" text-anchor="start" font-size="14.0">scaffold2.t1852</text>
<text x="184.2" y="590.0" text-anchor="start" font-size="13.9">FLO9</text>
<text x="112.6" y="601.0" text-anchor="start" font-size="14.0">0</text>
<text x="158.6" y="601.0" text-anchor="start" font-size="14.0">400</text>
<text x="215.1" y="601.0" text-anchor="start" font-size="14.0">800</text>
<text x="267.1" y="601.0" text-anchor="start" font-size="14.0">1200</text>
<text x="112.7" y="734.0" text-anchor="start" font-size="13.7">0</text>
<text x="140.1" y="734.0" text-anchor="start" font-size="13.7">100</text>
<text x="177.7" y="734.0" text-anchor="start" font-size="13.7">200</text>
<text x="214.3" y="734.0" text-anchor="start" font-size="13.7">300</text>
<text x="250.8" y="734.0" text-anchor="start" font-size="13.7">400</text>
<text x="287.2" y="734.0" text-anchor="start" font-size="13.7">500</text>
<text x="163.7" y="746.0" text-anchor="start" font-size="14.0">scaffold2.t1859</text>
<text x="447.1" y="590.0" text-anchor="start" font-size="14.0">FLO10</text>
<text x="365.5" y="604.0" text-anchor="start" font-size="14.0">0</text>
<text x="388.8" y="604.0" text-anchor="start" font-size="14.0">200</text>
<text x="422.1" y="604.0" text-anchor="start" font-size="14.0">400</text>
<text x="455.6" y="604.0" text-anchor="start" font-size="14.0">600</text>
<text x="489.4" y="604.0" text-anchor="start" font-size="14.0">800</text>
<text x="519.1" y="604.0" text-anchor="start" font-size="14.0">1000</text>
<text x="363.9" y="741.0" text-anchor="start" font-size="14.1">0</text>
<text x="394.9" y="741.0" text-anchor="start" font-size="14.1">100</text>
<text x="434.3" y="741.0" text-anchor="start" font-size="14.1">200</text>
<text x="473.2" y="741.0" text-anchor="start" font-size="14.1">300</text>
<text x="511.6" y="741.0" text-anchor="start" font-size="14.1">400</text>
<text x="550.2" y="741.0" text-anchor="start" font-size="14.1">500</text>
<text x="418.8" y="753.0" text-anchor="start" font-size="14.0">scaffold2.t1859</text>
</g>
</svg>
</body></html>
